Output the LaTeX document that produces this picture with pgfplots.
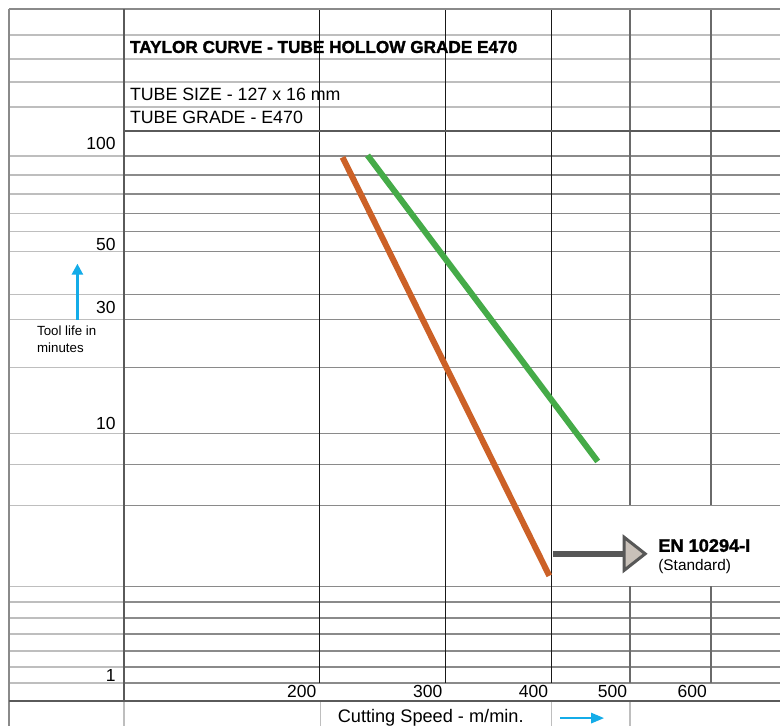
\documentclass[border=0pt]{standalone}
\usepackage{pgfplots}
\pgfplotsset{compat=1.18}
\usepackage{fontspec}
\setmainfont{Liberation Sans}
\newfontfamily\heavyfont[BoldFeatures={FakeBold=1.6}]{Liberation Sans}
\usetikzlibrary{arrows.meta}
\definecolor{lgray}{HTML}{BEBEBE}
\definecolor{mgray}{HTML}{8A8A8A}
\definecolor{dgray}{HTML}{5A5A5A}
\definecolor{vgray}{HTML}{6A6A6A}
\definecolor{orangeC}{HTML}{CC6127}
\definecolor{greenC}{HTML}{45AB48}
\definecolor{blueC}{HTML}{14ACE8}
\definecolor{arrowfill}{HTML}{C9C1B9}
\definecolor{arrowgray}{HTML}{575757}
\begin{document}
\begin{tikzpicture}
\begin{axis}[x=1pt,y=1pt,xmin=0,xmax=781,ymin=0,ymax=727,y dir=reverse,
  hide axis,clip=false,unbounded coords=jump]
\fill[white] (axis cs:0,0) rectangle (axis cs:781,727);
% header rows (full width)
\addplot[lgray,line width=1.5pt] coordinates {(9,35)(781,35) (nan,nan) (9,59)(781,59) (nan,nan) (9,82)(781,82) (nan,nan) (9,107)(781,107)};
% left column rows
\addplot[lgray,line width=1.5pt] coordinates {
(9,156)(124,156) (nan,nan) (9,175)(124,175) (nan,nan) (9,194)(124,194) (nan,nan)
(9,214)(124,214) (nan,nan) (9,232)(124,232) (nan,nan) (9,252)(124,252) (nan,nan)
(9,295)(124,295) (nan,nan) (9,320)(124,320) (nan,nan) (9,368)(124,368) (nan,nan)
(9,434)(124,434) (nan,nan) (9,465)(124,465) (nan,nan) (9,506)(124,506) (nan,nan)
(9,587)(124,587) (nan,nan) (9,603)(124,603) (nan,nan) (9,619)(124,619) (nan,nan)
(9,635)(124,635) (nan,nan) (9,652)(124,652) (nan,nan) (9,668)(124,668) (nan,nan)
(9,684)(124,684)};
% main grid rows
\addplot[mgray,line width=1.5pt] coordinates {
(124,156)(781,156) (nan,nan) (124,175)(781,175) (nan,nan) (124,194)(781,194) (nan,nan)
(124,214)(781,214) (nan,nan) (124,232)(781,232) (nan,nan) (124,252)(781,252) (nan,nan)
(124,295)(781,295) (nan,nan) (124,320)(781,320) (nan,nan) (124,368)(781,368) (nan,nan)
(124,434)(781,434) (nan,nan) (124,465)(781,465) (nan,nan) (124,506)(781,506) (nan,nan)
(124,587)(781,587) (nan,nan) (124,603)(781,603) (nan,nan) (124,619)(781,619) (nan,nan)
(124,635)(781,635) (nan,nan) (124,652)(781,652) (nan,nan) (124,668)(781,668) (nan,nan)
(124,684)(781,684)};
% footer verticals
\addplot[lgray,line width=1.5pt] coordinates {(124,702)(124,727) (nan,nan) (321,702)(321,727) (nan,nan) (552,702)(552,727) (nan,nan) (631,702)(631,727)};
% speed gridlines 200, 300, 400
\addplot[black!90,line width=1.2pt] coordinates {(320,9.5)(320,684) (nan,nan) (446,9.5)(446,684) (nan,nan) (552,9.5)(552,684)};
% speed gridlines 500, 600
\addplot[vgray,line width=1.8pt] coordinates {(631,9.5)(631,506) (nan,nan) (631,587)(631,684) (nan,nan) (712,9.5)(712,506) (nan,nan) (712,587)(712,684)};
% frame
\addplot[mgray,line width=2pt] coordinates {(9,9.5)(781,9.5) (nan,nan) (9,9.5)(9,727)};
\addplot[dgray,line width=2pt] coordinates {(124,9.5)(124,702) (nan,nan) (124,131)(781,131) (nan,nan) (9,702)(781,702)};
% Taylor curves
\addplot[orangeC,line width=6pt] coordinates {(343,157.5)(550,576.5)};
\addplot[greenC,line width=6pt] coordinates {(368,155.5)(598.5,462)};
% texts
\node[anchor=base west,inner sep=0,font=\heavyfont\bfseries\fontsize{17.2}{17.2}\selectfont] at (axis cs:130,53) {TAYLOR CURVE - TUBE HOLLOW GRADE E470};
\node[anchor=base west,inner sep=0,font=\fontsize{17.8}{17.8}\selectfont] at (axis cs:130,101) {TUBE SIZE - 127 x 16 mm};
\node[anchor=base west,inner sep=0,font=\fontsize{17.8}{17.8}\selectfont] at (axis cs:130,124) {TUBE GRADE - E470};
\node[anchor=base east,inner sep=0,font=\fontsize{17.5}{17.5}\selectfont] at (axis cs:116,150) {100};
\node[anchor=base east,inner sep=0,font=\fontsize{17.5}{17.5}\selectfont] at (axis cs:116,251) {50};
\node[anchor=base east,inner sep=0,font=\fontsize{17.5}{17.5}\selectfont] at (axis cs:116,314) {30};
\node[anchor=base east,inner sep=0,font=\fontsize{17.5}{17.5}\selectfont] at (axis cs:116,430.5) {10};
\node[anchor=base east,inner sep=0,font=\fontsize{17.5}{17.5}\selectfont] at (axis cs:116,682) {1};
\node[anchor=base east,inner sep=0,font=\fontsize{17.5}{17.5}\selectfont] at (axis cs:317,698) {200};
\node[anchor=base east,inner sep=0,font=\fontsize{17.5}{17.5}\selectfont] at (axis cs:443,698) {300};
\node[anchor=base east,inner sep=0,font=\fontsize{17.5}{17.5}\selectfont] at (axis cs:549,698) {400};
\node[anchor=base east,inner sep=0,font=\fontsize{17.5}{17.5}\selectfont] at (axis cs:628,698) {500};
\node[anchor=base east,inner sep=0,font=\fontsize{17.5}{17.5}\selectfont] at (axis cs:708,698) {600};
\node[anchor=base west,inner sep=0,font=\fontsize{18.2}{18.2}\selectfont] at (axis cs:338,723) {Cutting Speed - m/min.};
\node[anchor=base west,inner sep=0,font=\fontsize{13.3}{13.3}\selectfont] at (axis cs:37,336) {Tool life in};
\node[anchor=base west,inner sep=0,font=\fontsize{13.3}{13.3}\selectfont] at (axis cs:37,353) {minutes};
\node[anchor=base west,inner sep=0,font=\heavyfont\bfseries\fontsize{18.2}{18.2}\selectfont] at (axis cs:659,552.5) {EN 10294-I};
\node[anchor=base west,inner sep=0,font=\fontsize{15.4}{15.4}\selectfont] at (axis cs:659,571) {(Standard)};
% arrows
\draw[blueC,line width=2.5pt,-{Triangle[length=11pt,width=11pt]}] (axis cs:77.5,320) -- (axis cs:77.5,264);
\draw[blueC,line width=2.5pt,-{Triangle[length=13pt,width=10pt]}] (axis cs:561,719) -- (axis cs:605,719);
\draw[arrowgray,line width=6pt] (axis cs:554,554.5) -- (axis cs:626,554.5);
\filldraw[draw=arrowgray,fill=arrowfill,line width=3pt,line join=miter] (axis cs:625,538) -- (axis cs:646,554.5) -- (axis cs:625,571) -- cycle;
\end{axis}
\end{tikzpicture}
\end{document}
